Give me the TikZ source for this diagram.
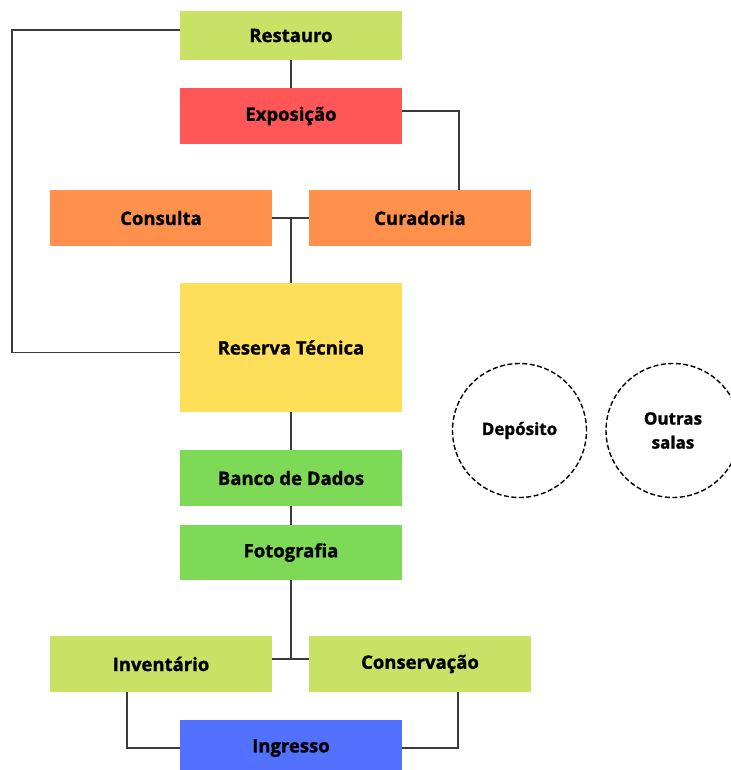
\documentclass[tikz,border=0pt]{standalone}
\usepackage{fontspec}
\setmainfont[BoldFeatures={FakeBold=1.2}]{Open Sans}
\definecolor{cLime}{HTML}{C9E265}
\definecolor{cRed}{HTML}{FF5757}
\definecolor{cOrange}{HTML}{FF914D}
\definecolor{cYellow}{HTML}{FFDE59}
\definecolor{cGreen}{HTML}{7ED957}
\definecolor{cBlue}{HTML}{5271FF}
\definecolor{cLine}{HTML}{3A3A3A}
\tikzset{
  box/.style={rectangle, minimum width=222pt, minimum height=56pt, inner sep=0pt,
    font=\fontsize{18.5}{21}\selectfont\bfseries, text=black},
  room/.style={circle, draw=black, dash pattern=on 5pt off 2.5pt, line width=1.4pt, minimum size=134pt, inner sep=0pt,
    font=\fontsize{17}{24}\selectfont\bfseries, align=center},
  link/.style={draw=cLine, line width=1.5pt}
}
\begin{document}
\begin{tikzpicture}[x=1pt,y=-1pt]
\useasboundingbox[fill=white] (0,0) rectangle (730,770);
\node[box, fill=cLime, minimum height=49pt] (restauro) at (291,35.5) {Restauro};
\node[box, fill=cRed] (expo) at (291,116) {Exposição};
\node[box, fill=cOrange] (consulta) at (161,218) {Consulta};
\node[box, fill=cOrange] (curadoria) at (420,218) {Curadoria};
\node[box, fill=cYellow, minimum height=129pt] (reserva) at (291,347.5) {Reserva Técnica};
\node[box, fill=cGreen] (banco) at (291,478) {Banco de Dados};
\node[box, fill=cGreen, minimum height=55pt] (foto) at (291,552.5) {Fotografia};
\node[box, fill=cLime] (invent) at (161,664) {Inventário};
\node[box, fill=cLime] (conserv) at (420,664) {Conservação};
\node[box, fill=cBlue] (ingresso) at (291,748) {Ingresso};
\node[room] (deposito) at (519.5,430.5) {Depósito};
\node[room] (outras) at (673,430.5) {Outras\\salas};

\draw[link] ([yshift=5.5pt]restauro.west) -- ++(-168,0) |- ([yshift=-5pt]reserva.west);
\draw[link] (restauro.south) -- (expo.north);
\draw[link] ([yshift=5pt]expo.east) -| ([xshift=39pt]curadoria.north);
\draw[link] (consulta.east) -- (curadoria.west);
\draw[link] (consulta.east -| reserva.north) -- (reserva.north);
\draw[link] (reserva.south) -- (banco.north);
\draw[link] (banco.south) -- (foto.north);
\draw[link] (foto.south) -- ([yshift=5pt]invent.east -| foto.south);
\draw[link] ([yshift=5pt]invent.east) -- ([yshift=5pt]conserv.west);
\draw[link] ([xshift=-34pt]invent.south) |- (ingresso.west);
\draw[link] ([xshift=38pt]conserv.south) |- (ingresso.east);
\end{tikzpicture}
\end{document}
